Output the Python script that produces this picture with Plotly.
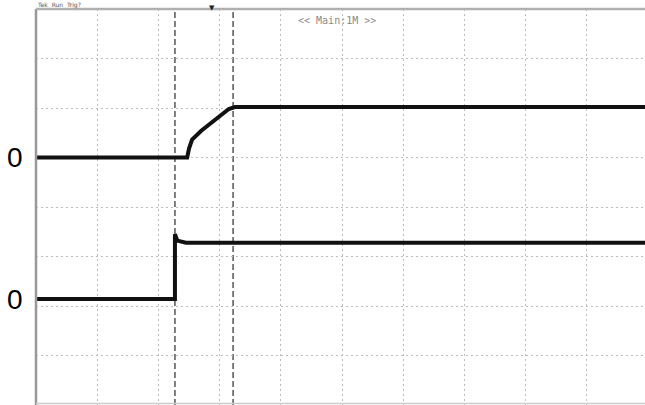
import plotly.graph_objects as go

# Time axis in divisions, amplitude in divisions
ch1_t = [0.0, 2.47, 2.50, 2.55, 2.70, 2.90, 3.05, 3.15, 3.25, 9.95]
ch1_v = [1.0, 1.0, 1.18, 1.36, 1.54, 1.74, 1.89, 1.98, 2.02, 2.02]

ch2_t = [0.0, 2.27, 2.27, 2.31, 2.45, 9.95]
ch2_v = [-1.86, -1.86, -0.55, -0.68, -0.72, -0.72]

cursor_t = [2.27, 3.22]
zero_labels = ["0", "0"]
zero_levels = [1.0, -1.86]
header_text = "<< Main:1M >>"
status_text = "Tek  Run  Trig?"
trigger_pos = 2.88

fig = go.Figure()

for xc in cursor_t:
    fig.add_shape(type="line", xref="x", yref="paper", x0=xc, x1=xc, y0=0, y1=1,
                  line=dict(color="#555555", width=1.5, dash="6px,3px"), layer="below")

fig.add_trace(go.Scatter(x=ch1_t, y=ch1_v, mode="lines",
                         line=dict(color="#111111", width=4), hoverinfo="skip"))
fig.add_trace(go.Scatter(x=ch2_t, y=ch2_v, mode="lines",
                         line=dict(color="#111111", width=4), hoverinfo="skip"))

# borders
fig.add_shape(type="line", xref="paper", yref="paper", x0=0, x1=0, y0=0, y1=1.0,
              line=dict(color="#999999", width=2.5))
fig.add_shape(type="line", xref="paper", yref="paper", x0=0, x1=1, y0=1.0, y1=1.0,
              line=dict(color="#b0b0b0", width=2.5))
fig.add_shape(type="line", xref="paper", yref="paper", x0=0, x1=1, y0=0.004, y1=0.004,
              line=dict(color="#cccccc", width=1.5))

for lab, lv in zip(zero_labels, zero_levels):
    fig.add_annotation(text=lab, xref="paper", yref="y", x=-0.034, y=lv,
                       xanchor="center", yanchor="middle", showarrow=False,
                       font=dict(family="Liberation Sans, Arial", size=28, color="#000000"))

fig.add_annotation(text=header_text, xref="x", yref="paper", x=4.92, y=0.99,
                   xanchor="center", yanchor="top", showarrow=False,
                   font=dict(family="DejaVu Sans Mono", size=10, color="#8a8a8a"))

fig.add_annotation(text=status_text, xref="paper", yref="paper", x=0.0, y=1.0,
                   xanchor="left", yanchor="bottom", yshift=-1, showarrow=False,
                   borderpad=0,
                   font=dict(family="DejaVu Sans", size=6, color="#555555"))

fig.add_annotation(text="▼", xref="x", yref="paper", x=trigger_pos, y=1.0,
                   xanchor="center", yanchor="bottom", yshift=-5, showarrow=False,
                   font=dict(family="DejaVu Sans", size=7, color="#222222"))

fig.update_layout(
    width=645, height=405,
    margin=dict(l=36, r=0, t=9, b=0),
    paper_bgcolor="white", plot_bgcolor="white",
    showlegend=False,
    xaxis=dict(range=[0, 9.95], dtick=1, tick0=0, showgrid=True,
               gridcolor="#bdbdbd", griddash="2px,3px", gridwidth=1,
               showticklabels=False, zeroline=False, showline=False, ticks=""),
    yaxis=dict(range=[-4, 4], dtick=1, tick0=0, showgrid=True,
               gridcolor="#bdbdbd", griddash="2px,3px", gridwidth=1,
               showticklabels=False, zeroline=False, showline=False, ticks=""),
)

fig.write_html("out.html", config={"displayModeBar": False},
               post_script="document.body.style.margin='0';document.body.style.overflow='hidden';")
